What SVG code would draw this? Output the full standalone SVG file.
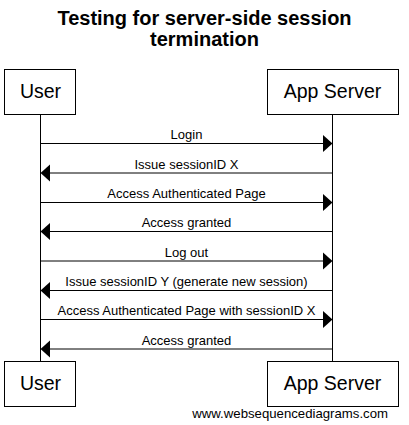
<svg xmlns="http://www.w3.org/2000/svg" width="409" height="425" viewBox="0 0 409 425">
<style>
text{font-family:"Liberation Sans",Arial,sans-serif;fill:#000}
.title{font-size:20px;font-weight:bold;text-anchor:middle}
.actor rect{fill:#fff;stroke:#000;stroke-width:1}
.actor text{font-size:19.5px;text-anchor:middle}
.life{stroke:#000;stroke-width:1}
.msg line{stroke:#000;stroke-width:1}
.msg polygon{fill:#000}
.msg text{font-size:13px;text-anchor:middle}
.wm{font-size:13.2px;text-anchor:end}
</style>
<rect width="409" height="425" fill="#fff"/>
<g id="title">
<text class="title" x="204.5" y="25">Testing for server-side session</text>
<text class="title" x="204.5" y="46">termination</text>
</g>
<g id="lifelines">
<line class="life" x1="40.5" y1="114.5" x2="40.5" y2="361.5"/>
<line class="life" x1="332.5" y1="114.5" x2="332.5" y2="361.5"/>
</g>
<g id="user-top" class="actor">
<rect x="4.5" y="69.5" width="71" height="45"/>
<text x="40.5" y="98">User</text>
</g>
<g id="server-top" class="actor">
<rect x="267.5" y="69.5" width="131" height="45"/>
<text x="332.5" y="98">App Server</text>
</g>
<g id="user-bottom" class="actor">
<rect x="4.5" y="361.5" width="71" height="45"/>
<text x="40.5" y="390">User</text>
</g>
<g id="server-bottom" class="actor">
<rect x="267.5" y="361.5" width="131" height="45"/>
<text x="332.5" y="390">App Server</text>
</g>
<g id="connectors" class="msg">
<line x1="40.5" y1="143.5" x2="324" y2="143.5"/>
<polygon points="323,135 332.5,143.5 323,152"/>
<text x="186.5" y="139">Login</text>

<line x1="49" y1="173" x2="332.5" y2="173"/>
<polygon points="50,164.5 40.5,173 50,181.5"/>
<text x="186.5" y="168.5">Issue sessionID X</text>

<line x1="40.5" y1="202.5" x2="324" y2="202.5"/>
<polygon points="323,194 332.5,202.5 323,211"/>
<text x="186.5" y="198">Access Authenticated Page</text>

<line x1="49" y1="231.5" x2="332.5" y2="231.5"/>
<polygon points="50,223 40.5,231.5 50,240"/>
<text x="186.5" y="227">Access granted</text>

<line x1="40.5" y1="261" x2="324" y2="261"/>
<polygon points="323,252.5 332.5,261 323,269.5"/>
<text x="186.5" y="256.5">Log out</text>

<line x1="49" y1="290.5" x2="332.5" y2="290.5"/>
<polygon points="50,282 40.5,290.5 50,299"/>
<text x="186.5" y="286">Issue sessionID Y (generate new session)</text>

<line x1="40.5" y1="319.5" x2="324" y2="319.5"/>
<polygon points="323,311 332.5,319.5 323,328"/>
<text x="186.5" y="315">Access Authenticated Page with sessionID X</text>

<line x1="49" y1="349" x2="332.5" y2="349"/>
<polygon points="50,340.5 40.5,349 50,357.5"/>
<text x="186.5" y="344.5">Access granted</text>
</g>
<g id="watermark">
<text class="wm" x="388" y="418">www.websequencediagrams.com</text>
</g>
</svg>
